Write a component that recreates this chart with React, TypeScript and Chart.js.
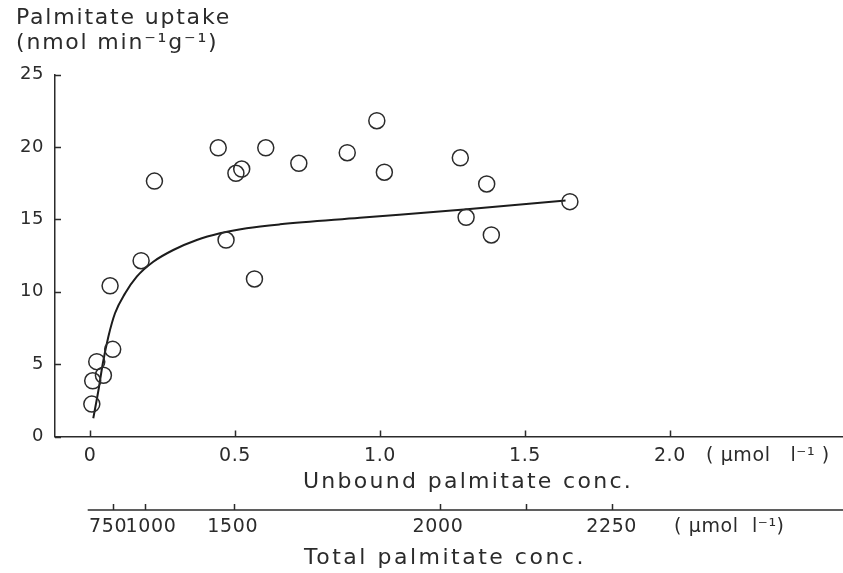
import React, { useEffect, useRef } from 'react';
import { Chart, registerables } from 'chart.js';
Chart.register(...registerables);

// Observed data points (unbound palmitate conc., µmol/l ; uptake, nmol/min/g)
const unboundConc = [0.006, 0.009, 0.023, 0.046, 0.078, 0.069, 0.176, 0.222, 0.442, 0.469, 0.503, 0.523, 0.567, 0.606, 0.72, 0.887, 0.989, 1.015, 1.277, 1.297, 1.368, 1.384, 1.655];
const uptake = [2.24, 3.85, 5.17, 4.23, 6.02, 10.41, 12.14, 17.64, 19.94, 13.57, 18.18, 18.47, 10.88, 19.94, 18.87, 19.6, 21.81, 18.25, 19.25, 15.14, 17.44, 13.92, 16.22];

// Fitted curve
const curveConc = [0.011, 0.029, 0.044, 0.063, 0.086, 0.121, 0.161, 0.218, 0.287, 0.368, 0.448, 0.54, 0.655, 0.93, 1.29, 1.64];
const curveUptake = [1.26, 3.21, 5.06, 6.89, 8.51, 9.89, 11.04, 12.07, 12.88, 13.57, 14.03, 14.38, 14.65, 15.1, 15.68, 16.3];

// Axis ticks
const unboundTicks = [0, 0.5, 1.0, 1.5, 2.0];
const unboundTickLabels = ['0', '0.5', '1.0', '1.5', '2.0'];
const unboundUnitPos = 2.338;
const unboundUnitLabel = '(\u00a0\u00b5mol\u00a0\u00a0\u00a0l\u207b\u00b9\u00a0)';

// Total conc. axis: tick marks (in unbound units) and where their labels sit
const totalTickLabels = ['750', '1000', '1500', '2000', '', '2250'];
const totalTickPositions = [0.078, 0.191, 0.497, 1.207, 1.502, 1.799];
const totalLabelPositions = [0.062, 0.21, 0.492, 1.2, 1.502, 1.799];
const totalUnitPos = 2.205;
const totalUnitLabel = '(\u00a0\u00b5mol\u00a0\u00a0l\u207b\u00b9)';

const yTicks = [0, 5, 10, 15, 20, 25];
const yTitleLines = ['Palmitate uptake', '(nmol min\u207b\u00b9g\u207b\u00b9)'];
const xTitle = 'Unbound palmitate conc.';
const x2Title = 'Total palmitate conc.';

const FONT = "'DejaVu Sans', sans-serif";
const INK = '#2b2b2b';

const figurePlugin = {
  id: 'figurePlugin',
  beforeLayout(chart: any) { chart.ctx.letterSpacing = '0.6px'; },
  beforeDraw(chart: any) { chart.ctx.letterSpacing = '0.6px'; },
  afterDraw(chart: any) {
    const ctx = chart.ctx;
    const { x, x2, y } = chart.scales;
    ctx.save();
    ctx.strokeStyle = INK;
    ctx.lineWidth = 1.5;
    ctx.beginPath();
    unboundTicks.forEach((v) => {
      const px = Math.round(x.getPixelForValue(v)) + 0.5;
      ctx.moveTo(px, x.top);
      ctx.lineTo(px, x.top - 6);
    });
    totalTickPositions.forEach((v) => {
      const px = Math.round(x2.getPixelForValue(v)) + 0.5;
      ctx.moveTo(px, x2.top);
      ctx.lineTo(px, x2.top - 6);
    });
    ctx.moveTo(x2.getPixelForValue(totalTickPositions[0]) - 25, x2.top);
    ctx.lineTo(x2.right, x2.top);
    yTicks.forEach((v) => {
      const py = Math.round(y.getPixelForValue(v)) + 0.5;
      ctx.moveTo(y.right, py);
      ctx.lineTo(y.right + 6, py);
    });
    ctx.stroke();

    ctx.fillStyle = INK;
    ctx.font = `22px ${FONT}`;
    ctx.textBaseline = 'middle';
    ctx.textAlign = 'left';
    ctx.letterSpacing = '1.8px';
    yTitleLines.forEach((t, i) => ctx.fillText(t, 16, 18.5 + i * 24.5));

    ctx.textAlign = 'center';
    ctx.letterSpacing = '2.3px';
    ctx.fillText(xTitle, (x.left + x.right) / 2 + 19, x.bottom - 28);
    ctx.letterSpacing = '2.5px';
    ctx.fillText(x2Title, (x2.left + x2.right) / 2 - 4, x2.bottom - 15);
    ctx.restore();
  },
};

export default function App() {
  const ref = useRef<HTMLCanvasElement | null>(null);
  useEffect(() => {
    if (!ref.current) return;
    const noPad = (s: any) => { s.paddingLeft = 0; s.paddingRight = 0; };
    const chart = new Chart(ref.current, {
      type: 'scatter',
      data: {
        datasets: [
          {
            data: unboundConc.map((u, i) => ({ x: u, y: uptake[i] })),
            pointRadius: 8,
            pointBorderWidth: 1.5,
            borderColor: INK,
            backgroundColor: 'rgba(0,0,0,0)',
            pointStyle: 'circle',
            showLine: false,
            clip: false,
            xAxisID: 'x',
            yAxisID: 'y',
          },
          {
            data: curveConc.map((u, i) => ({ x: u, y: curveUptake[i] })),
            showLine: true,
            pointRadius: 0,
            borderWidth: 2,
            borderColor: '#1c1c1c',
            cubicInterpolationMode: 'monotone',
            clip: false,
            xAxisID: 'x',
            yAxisID: 'y',
          },
        ],
      },
      options: {
        responsive: false,
        animation: false,
        events: [],
        layout: { autoPadding: false, padding: { top: 74.5, left: 0, right: 0, bottom: 0 } },
        plugins: { legend: { display: false }, tooltip: { enabled: false }, title: { display: false } },
        scales: {
          x: {
            type: 'linear',
            position: 'bottom',
            weight: 0,
            min: -0.121,
            max: 2.597,
            afterBuildTicks: (s: any) => {
              s.ticks = [...unboundTicks, unboundUnitPos].map((v) => ({ value: v }));
            },
            afterFit: (s: any) => { s.height = 73.5; noPad(s); },
            grid: { display: false, drawTicks: false },
            border: { display: true, color: INK, width: 1.5 },
            ticks: {
              autoSkip: false,
              maxRotation: 0,
              padding: 8,
              color: INK,
              font: { family: FONT, size: 19 },
              callback: (_v: any, i: number) => (i < unboundTickLabels.length ? unboundTickLabels[i] : unboundUnitLabel),
            },
          },
          x2: {
            type: 'linear',
            position: 'bottom',
            weight: 1,
            min: -0.121,
            max: 2.597,
            afterBuildTicks: (s: any) => {
              s.ticks = [...totalLabelPositions, totalUnitPos].map((v) => ({ value: v }));
            },
            afterFit: (s: any) => { s.height = 63; noPad(s); },
            grid: { display: false, drawTicks: false },
            border: { display: false },
            ticks: {
              autoSkip: false,
              maxRotation: 0,
              padding: 6,
              color: INK,
              font: { family: FONT, size: 19 },
              callback: (_v: any, i: number) => (i < totalTickLabels.length ? totalTickLabels[i] : totalUnitLabel),
            },
          },
          y: {
            type: 'linear',
            min: 0,
            max: 25,
            afterBuildTicks: (s: any) => {
              s.ticks = yTicks.map((v) => ({ value: v }));
            },
            afterFit: (s: any) => { s.width = 55; },
            grid: { display: false, drawTicks: false },
            border: { display: true, color: INK, width: 1.5 },
            ticks: {
              padding: 11,
              color: INK,
              font: { family: FONT, size: 18 },
              callback: (v: any) => String(v),
            },
          },
        },
      },
      plugins: [figurePlugin],
    } as any);
    return () => chart.destroy();
  }, []);
  return (
    <div style={{ position: 'fixed', left: 0, top: 0, width: 843, height: 573, background: '#fff' }}>
      <canvas ref={ref} width={843} height={573} />
    </div>
  );
}
